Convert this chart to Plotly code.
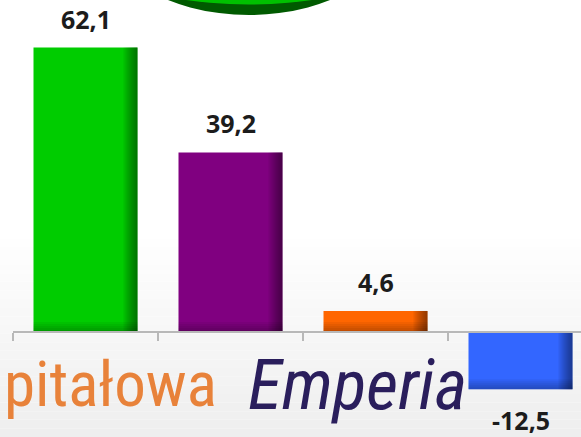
import plotly.graph_objects as go

categories = ["A", "B", "C", "D"]
values = [62.1, 39.2, 4.6, -12.5]
labels = ["62,1", "39,2", "4,6", "-12,5"]
colors = ["#00CC00", "#800080", "#FF6600", "#3366FF"]

W, H = 581, 437
ML = 13
CAT_PX = 145.0
PLOT_W = W - ML
x_range = [-0.5, -0.5 + PLOT_W / CAT_PX]
y_range = [-22.92, 72.47]
PX_PER_UNIT = H / (y_range[1] - y_range[0])
bar_w = 104 / CAT_PX

def px_x(px):
    return (px - ML) / PLOT_W

def px_y(py):
    return 1 - py / H

fig = go.Figure()
fig.add_trace(go.Bar(x=categories, y=values, marker=dict(color=colors, line=dict(width=0)),
                     width=bar_w, offset=-bar_w / 2, hoverinfo="skip"))
# right-edge shading layers (gradient)
for wpx in [14, 12, 10, 8, 6, 4, 2]:
    w = wpx / CAT_PX
    fig.add_trace(go.Bar(x=categories, y=values, marker=dict(color="rgba(0,0,0,0.07)", line=dict(width=0)),
                         width=w, offset=bar_w / 2 - w, hoverinfo="skip"))
# bottom-edge shading layers (gradient)
bases = [min(v, 0) for v in values]
for hpx in [10, 8, 6, 4, 2]:
    hd = [min(abs(v), hpx / PX_PER_UNIT) for v in values]
    fig.add_trace(go.Bar(x=categories, y=hd, base=bases,
                         marker=dict(color="rgba(0,0,0,0.05)", line=dict(width=0)),
                         width=bar_w, offset=-bar_w / 2, hoverinfo="skip"))

shapes = []
# background gradient
n = 24
top, bot = 230, H
for i in range(n):
    y0 = top + (bot - top) * i / n
    y1 = top + (bot - top) * (i + 1) / n
    g = int(round(255 - 17 * (i + 0.5) / n))
    shapes.append(dict(type="rect", xref="paper", yref="paper", x0=px_x(0), x1=px_x(W),
                       y0=px_y(y1), y1=px_y(y0), fillcolor=f"rgb({g},{g},{g})",
                       line=dict(width=0), layer="below"))
# decorative ellipse at top (mostly outside view)
cx = 249
shapes.append(dict(type="circle", xref="paper", yref="paper", x0=px_x(cx - 153.8), x1=px_x(cx + 153.8),
                   y0=px_y(15), y1=px_y(-185), fillcolor="#005A00", line=dict(width=0), layer="below"))
shapes.append(dict(type="circle", xref="paper", yref="paper", x0=px_x(cx - 201), x1=px_x(cx + 201),
                   y0=px_y(4.5), y1=px_y(-174.5), fillcolor="#00C000", line=dict(width=0), layer="below"))

LOGO_FONT = "Roboto Condensed, Roboto, sans-serif"
annotations = []
for c, v, t in zip(categories, values, labels):
    annotations.append(dict(x=c, y=v, text=f"<b>{t}</b>", showarrow=False, xref="x", yref="y",
                            yshift=29 if v >= 0 else -31, yanchor="middle",
                            font=dict(family="Open Sans, sans-serif", size=25, color="#1C1C1C")))
annotations.append(dict(x=px_x(219), y=px_y(384), xref="paper", yref="paper", text="pitałowa",
                        xanchor="right", yanchor="middle", showarrow=False,
                        font=dict(family=LOGO_FONT, size=63, color="#E8823A")))
annotations.append(dict(x=px_x(246), y=px_y(385), xref="paper", yref="paper", text="<i>Emperia</i>",
                        xanchor="left", yanchor="middle", showarrow=False,
                        font=dict(family=LOGO_FONT, size=70, color="#2A1E5C")))

fig.update_layout(
    width=W, height=H, margin=dict(l=ML, r=0, t=0, b=0),
    paper_bgcolor="white", plot_bgcolor="rgba(0,0,0,0)",
    barmode="overlay", showlegend=False,
    shapes=shapes, annotations=annotations,
    xaxis=dict(type="category", range=x_range, anchor="free", position=(H - 332) / H, showline=True,
               linecolor="#B8B8B8", linewidth=2, ticks="outside", tickson="boundaries",
               ticklen=8, tickwidth=2, tickcolor="#B8B8B8", showticklabels=False,
               showgrid=False, zeroline=False, fixedrange=True),
    yaxis=dict(range=y_range, visible=False, showgrid=False, zeroline=False, fixedrange=True),
)
fig.write_html("out.html", config={"displayModeBar": False},
               post_script="document.body.style.margin='0';document.body.style.overflow='hidden';")
